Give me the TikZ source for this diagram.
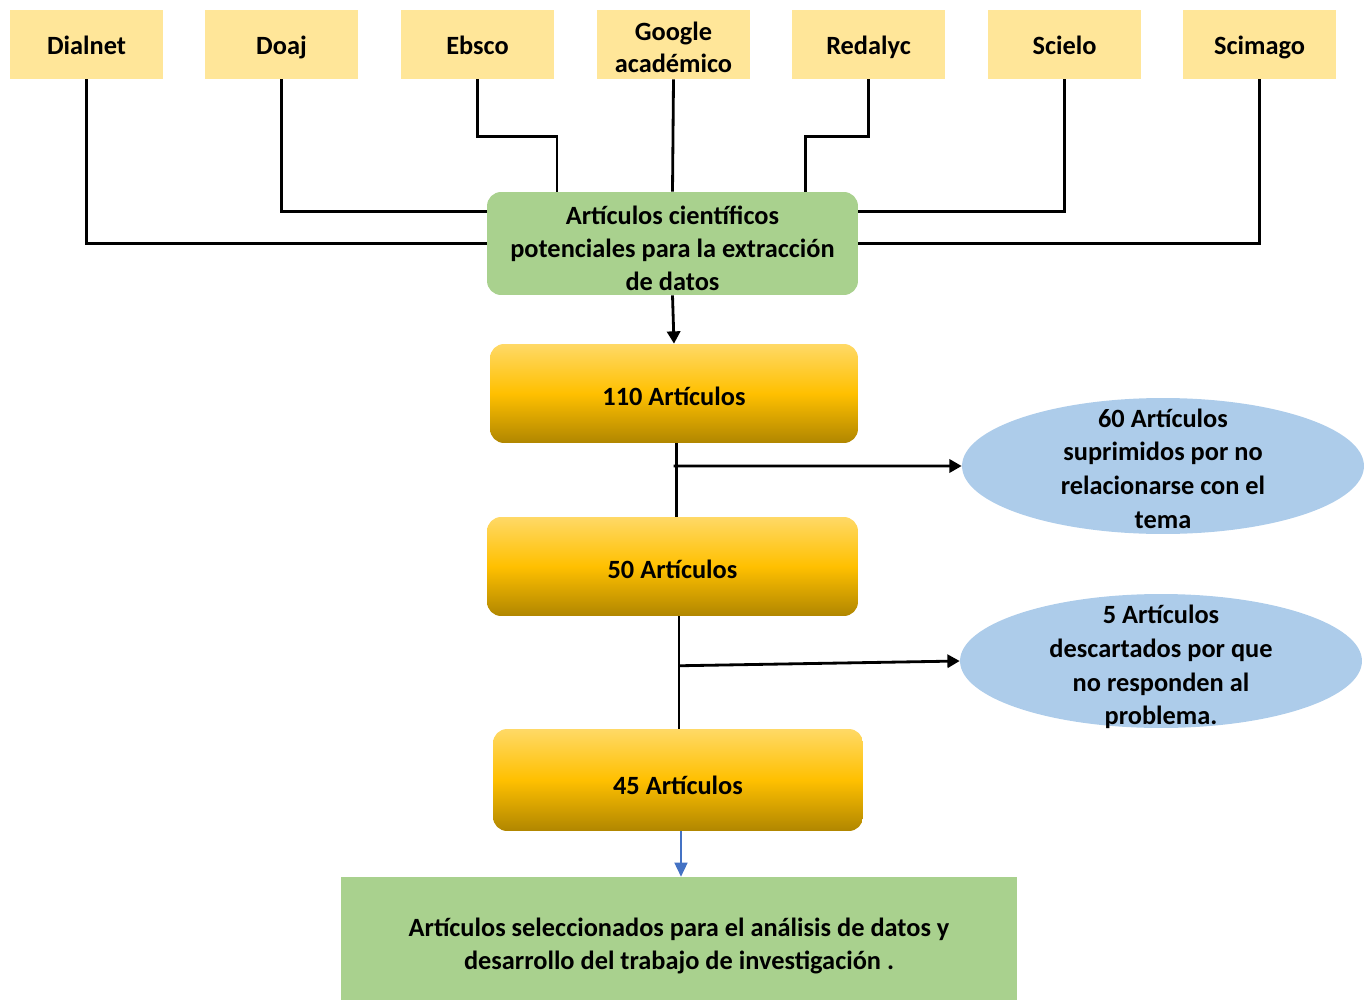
\documentclass[tikz,border=0pt]{standalone}
\usepackage{fontspec}
\setmainfont{Carlito}
\usetikzlibrary{arrows.meta, shapes.geometric, calc}
\definecolor{srcyellow}{RGB}{255,230,153}
\definecolor{potgreen}{RGB}{169,209,142}
\definecolor{goldtop}{RGB}{255,217,102}
\definecolor{goldmid}{RGB}{255,192,0}
\definecolor{goldbot}{RGB}{176,134,0}
\definecolor{elblue}{RGB}{173,204,234}
\definecolor{arrblue}{RGB}{68,114,196}
\tikzset{
  src/.style={fill=srcyellow, minimum width=3.06cm, minimum height=1.38cm, align=center, inner sep=0pt, text height=15.2pt, text depth=3.5pt},
  potbox/.style={fill=potgreen, rounded corners=8pt, minimum width=7.42cm, minimum height=2.06cm, inner sep=0pt},
  goldbox/.style={top color=goldtop, bottom color=goldbot, middle color=goldmid, rounded corners=8pt, minimum height=1.98cm, text height=17.5pt, text depth=3.5pt},
  drop/.style={ellipse, fill=elblue, minimum width=8.04cm, minimum height=2.72cm, inner sep=0pt},
  selbox/.style={fill=potgreen, minimum width=13.52cm, minimum height=2.46cm, inner sep=0pt},
  intext/.style={align=center, font=\bfseries\fontsize{15}{18.8}\selectfont},
  link/.style={line width=1.6pt},
  tip/.style={-{Triangle[width=7.5pt,length=7pt]}}
}
\begin{document}
\begin{tikzpicture}[x=0.02cm, y=-0.02cm,
    every node/.style={font=\bfseries\fontsize{15}{18.8}\selectfont}]
  \useasboundingbox (0,0) rectangle (1369,1000);

  % bases de datos
  \node[src] (dialnet) at (86.5,44.5) {Dialnet};
  \node[src] (doaj) at (281.5,44.5) {Doaj};
  \node[src] (ebsco) at (477.5,44.5) {Ebsco};
  \node[src, text height=, text depth=, label={[intext, font=\bfseries\fontsize{15}{18.2}\selectfont, yshift=-1.7pt]center:Google\\académico}] (google) at (673.5,44.5) {};
  \node[src] (redalyc) at (868.5,44.5) {Redalyc};
  \node[src] (scielo) at (1064.5,44.5) {Scielo};
  \node[src] (scimago) at (1259.5,44.5) {Scimago};

  \node[potbox, label={[intext, yshift=-2.8pt]center:Artículos científicos\\potenciales para la extracción\\de datos}] (arts) at (672.5,243.5) {};

  % filtros
  \node[goldbox, minimum width=7.36cm] (n110) at (674,393.5) {110 Artículos};
  \node[goldbox, minimum width=7.42cm] (n50) at (672.5,566.5) {50 Artículos};
  \node[goldbox, minimum width=7.4cm, minimum height=2.04cm, text height=20.3pt] (n45) at (678,780) {45 Artículos};

  \node[drop, label={[intext, font=\bfseries\fontsize{15}{19.2}\selectfont, yshift=-1.5pt]center:60 Artículos\\suprimidos por no\\relacionarse con el\\tema}] (e1) at (1163,466) {};
  \node[drop, minimum height=2.68cm, label={[intext, font=\bfseries\fontsize{15}{19.2}\selectfont, yshift=-3.5pt]center:5 Artículos\\descartados por que\\no responden al\\problema.}] (e2) at (1161,661) {};

  \node[selbox, label={[intext, yshift=-4.5pt]center:Artículos seleccionados para el análisis de datos y\\desarrollo del trabajo de investigación .}] (sel) at (679,938.5) {};

  % conexiones
  \draw[link] (dialnet.south) |- (arts.west);
  \draw[link] (doaj.south) |- ([yshift=18pt]arts.west);
  \draw[link] (ebsco.south) -- ++(0,57) -| ([xshift=40pt]arts.north west);
  \draw[link] (google.south) -- (arts.north);
  \draw[link] (redalyc.south) -- ++(0,57) -| ([xshift=-30pt]arts.north east);
  \draw[link] (scielo.south) |- ([yshift=18pt]arts.east);
  \draw[link] (scimago.south) |- (arts.east);

  \draw[link, tip] (arts.south) -- (n110.north);
  \draw[link] ([xshift=1.2pt]n110.south) -- ([xshift=1.2pt]n110.south |- n50.north);
  \draw[link, tip] ($(n110.south)!0.31!(n50.north)$) -- (e1.west);
  \draw[link] ([xshift=3.7pt]n50.south) -- ([xshift=3.7pt]n50.south |- n45.north);
  \draw[link, tip] ($([xshift=3.7pt]n50.south)!0.44!([xshift=3.7pt]n50.south |- n45.north)$) -- (e2.west);
  \draw[arrblue, line width=0.7pt, -{Triangle[width=7.5pt,length=8pt]}] ([xshift=1.7pt]n45.south) -- ([xshift=1.7pt]n45.south |- sel.north);
\end{tikzpicture}
\end{document}
